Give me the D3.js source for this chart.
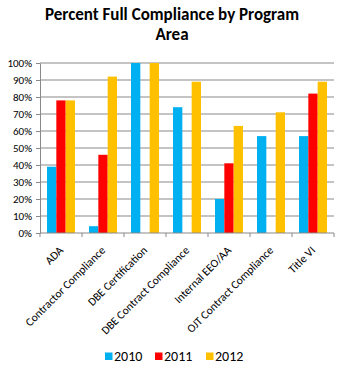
<!DOCTYPE html>
<html><head><meta charset="utf-8">
<script src="https://cdn.jsdelivr.net/npm/d3@7"></script>
<style>body{margin:0;background:#fff}svg{display:block}</style>
</head><body><svg id="c" width="350" height="369"></svg>
<script>
const categories = ["ADA","Contractor Compliance","DBE Certification","DBE Contract Compliance","Internal EEO/AA","OJT Contract Compliance","Title VI"];
const seriesNames = ["2010","2011","2012"];
const values2010 = [39, 4, 100, 74, 20, 57, 57];
const values2011 = [78, 46, null, null, 41, null, 82];
const values2012 = [78, 92, 100, 89, 63, 71, 89];
const colors = ["#00B0F0","#FF0000","#FFC000"];
const yTicks = [0,10,20,30,40,50,60,70,80,90,100];
const titleLines = ["Percent Full Compliance by Program","Area"];

const font = "Carlito, Calibri, Lato, sans-serif";
const svg = d3.select("#c");
const L=40, R=334, T=63, B=233;
const x = d3.scaleBand().domain(categories).range([L,R]).paddingInner(0).paddingOuter(0);
const x1 = d3.scaleBand().domain(seriesNames).range([0,x.bandwidth()]).paddingInner(0).paddingOuter(0.75);
const y = d3.scaleLinear().domain([0,100]).range([B,T]);

svg.selectAll("text.title").data(titleLines).join("text")
  .attr("x",172).attr("y",(d,i)=>20+i*20).attr("text-anchor","middle")
  .attr("font-family",font).attr("font-weight","bold").attr("font-size",17).attr("fill","#000").text(d=>d);

// gridlines
svg.append("g").selectAll("line").data(yTicks.filter(t=>t>0)).join("line")
  .attr("x1",L).attr("x2",R).attr("y1",d=>y(d)).attr("y2",d=>y(d))
  .attr("stroke","#898989").attr("stroke-width",1);

const data = [values2010, values2011, values2012];
const g = svg.append("g");
categories.forEach((c,ci)=>{
  seriesNames.forEach((s,si)=>{
    const v = data[si][ci];
    if(v==null) return;
    g.append("rect").attr("x",x(c)+x1(s)).attr("width",x1.bandwidth())
      .attr("y",y(v)).attr("height",B-y(v)).attr("fill",colors[si]);
  });
});

// y axis
const ya = svg.append("g").attr("transform",`translate(${L},0)`)
  .call(d3.axisLeft(y).tickValues(yTicks).tickFormat(d=>d+"%").tickSize(4).tickSizeOuter(0));
ya.select(".domain").attr("stroke","#898989");
ya.selectAll(".tick line").attr("stroke","#898989");
ya.selectAll("text").attr("font-family",font).attr("font-size",11).attr("fill","#000").attr("x",-8);

// x axis
const xa = svg.append("g").attr("transform",`translate(0,${B})`);
xa.append("line").attr("x1",L).attr("x2",R).attr("stroke","#898989");
const bounds = categories.map(c=>x(c)).concat([R]);
xa.selectAll("line.t").data(bounds).join("line").attr("class","t")
  .attr("x1",d=>d).attr("x2",d=>d).attr("y1",0).attr("y2",4).attr("stroke","#898989");
xa.selectAll("text").data(categories).join("text")
  .attr("transform",d=>`translate(${x(d)+x.bandwidth()/2+3},${18}) rotate(-45)`)
  .attr("text-anchor","end").attr("font-family",font).attr("font-size",11.5).attr("fill","#000").text(d=>d);

// legend
const legX=[105,155,206];
const lg = svg.append("g");
seriesNames.forEach((s,i)=>{
  lg.append("rect").attr("x",legX[i]).attr("y",352.5).attr("width",7.5).attr("height",7.5).attr("fill",colors[i]);
  lg.append("text").attr("x",legX[i]+9).attr("y",360.5).attr("font-family",font).attr("font-size",14).attr("fill","#000").text(s);
});
</script></body></html>
